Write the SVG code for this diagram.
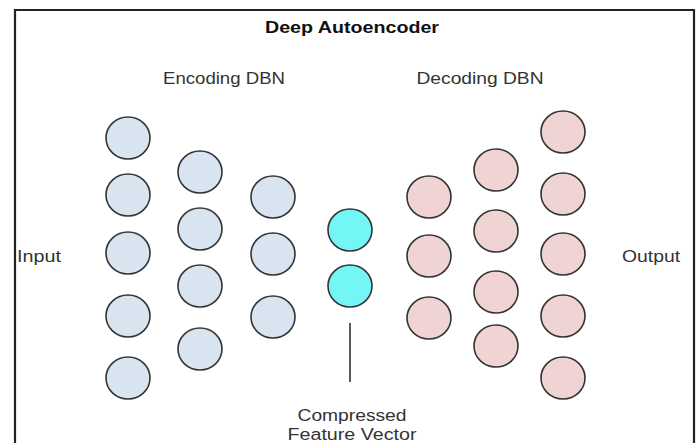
<svg xmlns="http://www.w3.org/2000/svg" width="700" height="443" viewBox="0 0 700 443">
<style>
.t{font-family:"Liberation Sans",Arial,sans-serif;font-size:16px;fill:#333;text-anchor:middle}
.title{font-family:"Liberation Sans",Arial,sans-serif;font-size:16px;font-weight:bold;fill:#111;text-anchor:middle}
.enc{fill:#d8e5f1;stroke:#333;stroke-width:1.6}
.dec{fill:#f0d3d3;stroke:#333;stroke-width:1.6}
.mid{fill:#74f6f6;stroke:#333;stroke-width:1.6}
.conn{stroke:#333;stroke-width:1.6;fill:none}
</style>
<rect x="0" y="0" width="700" height="443" fill="#fff"/>
<path d="M15,443 V10 H694 V443" fill="none" stroke="#222" stroke-width="2.2"/>
<g id="title"><text class="title" x="352" y="33" textLength="174" lengthAdjust="spacingAndGlyphs">Deep Autoencoder</text></g>
<g id="label-encoding"><text class="t" x="224" y="84" textLength="122" lengthAdjust="spacingAndGlyphs">Encoding DBN</text></g>
<g id="label-decoding"><text class="t" x="480" y="84" textLength="127" lengthAdjust="spacingAndGlyphs">Decoding DBN</text></g>
<g id="label-input"><text class="t" x="39" y="262" textLength="44" lengthAdjust="spacingAndGlyphs">Input</text></g>
<g id="label-output"><text class="t" x="651" y="262" textLength="58" lengthAdjust="spacingAndGlyphs">Output</text></g>
<g id="label-compressed"><text class="t" x="352" y="421" textLength="109" lengthAdjust="spacingAndGlyphs">Compressed</text><text class="t" x="352" y="440" textLength="129" lengthAdjust="spacingAndGlyphs">Feature Vector</text></g>
<g id="enc-layer1">
<ellipse class="enc" cx="128" cy="138" rx="22" ry="21"/>
<ellipse class="enc" cx="128" cy="195" rx="22" ry="21"/>
<ellipse class="enc" cx="128" cy="253" rx="22" ry="21"/>
<ellipse class="enc" cx="128" cy="316" rx="22" ry="21"/>
<ellipse class="enc" cx="128" cy="378" rx="22" ry="21"/>
</g>
<g id="enc-layer2">
<ellipse class="enc" cx="200" cy="172" rx="22" ry="21"/>
<ellipse class="enc" cx="200" cy="229" rx="22" ry="21"/>
<ellipse class="enc" cx="200" cy="286" rx="22" ry="21"/>
<ellipse class="enc" cx="200" cy="349" rx="22" ry="21"/>
</g>
<g id="enc-layer3">
<ellipse class="enc" cx="273" cy="197" rx="22" ry="21"/>
<ellipse class="enc" cx="273" cy="254" rx="22" ry="21"/>
<ellipse class="enc" cx="273" cy="317" rx="22" ry="21"/>
</g>
<g id="code-layer">
<ellipse class="mid" cx="350" cy="230" rx="22" ry="21"/>
<ellipse class="mid" cx="350" cy="286" rx="22" ry="21"/>
</g>
<g id="dec-layer1">
<ellipse class="dec" cx="429" cy="197" rx="22" ry="21"/>
<ellipse class="dec" cx="429" cy="256" rx="22" ry="21"/>
<ellipse class="dec" cx="429" cy="318" rx="22" ry="21"/>
</g>
<g id="dec-layer2">
<ellipse class="dec" cx="496" cy="170" rx="22" ry="21"/>
<ellipse class="dec" cx="496" cy="231" rx="22" ry="21"/>
<ellipse class="dec" cx="496" cy="292" rx="22" ry="21"/>
<ellipse class="dec" cx="496" cy="346" rx="22" ry="21"/>
</g>
<g id="dec-layer3">
<ellipse class="dec" cx="563" cy="132" rx="22" ry="21"/>
<ellipse class="dec" cx="563" cy="194" rx="22" ry="21"/>
<ellipse class="dec" cx="563" cy="254" rx="22" ry="21"/>
<ellipse class="dec" cx="563" cy="316" rx="22" ry="21"/>
<ellipse class="dec" cx="563" cy="378" rx="22" ry="21"/>
</g>
<g id="connectors">
<line class="conn" x1="350" y1="323" x2="350" y2="382"/>
</g>
</svg>
